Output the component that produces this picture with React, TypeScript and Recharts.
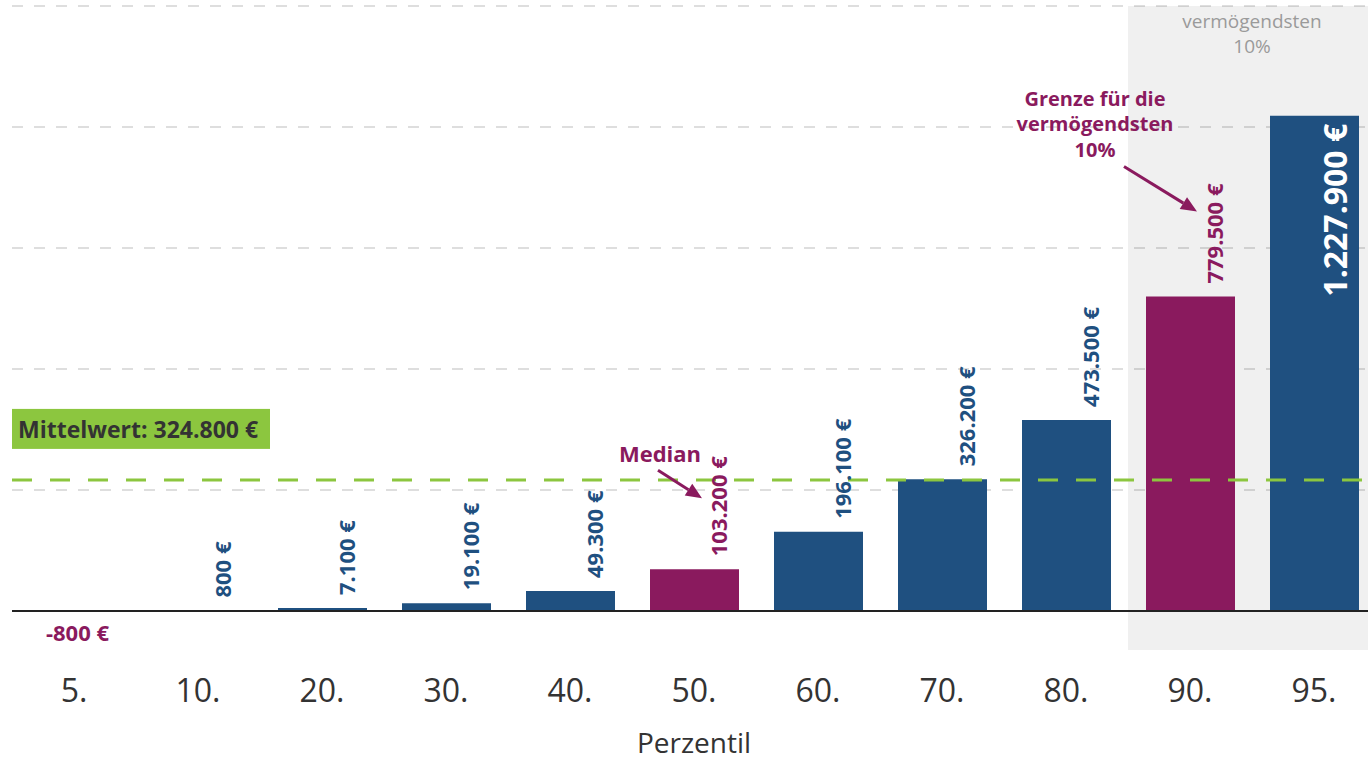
import React from 'react';
import {
  BarChart,
  Bar,
  XAxis,
  YAxis,
  CartesianGrid,
  Cell,
  LabelList,
  ReferenceArea,
  ReferenceLine,
  ReferenceDot,
} from 'recharts';

const percentiles = ['5.', '10.', '20.', '30.', '40.', '50.', '60.', '70.', '80.', '90.', '95.'];
const wealth = [-800, 800, 7100, 19100, 49300, 103200, 196100, 326200, 473500, 779500, 1227900];
const highlighted = ['50.', '90.'];
const topGroup = ['90.', '95.'];
const meanWealth = 324800;
const yTicks = [0, 300000, 600000, 900000, 1200000, 1500000];
const topGroupTitle = ['vermögendsten', '10%'];
const medianNote = ['Median'];
const thresholdNote = ['Grenze für die', 'vermögendsten', '10%'];
const axisTitle = 'Perzentil';

const data = percentiles.map((name, i) => ({ name, value: wealth[i] }));

const FONT = '"Open Sans", "Noto Sans", sans-serif';
const BLUE = '#1f5080';
const PURPLE = '#8a1a5e';
const GREEN = '#8cc63f';
const DARK = '#333333';

const fmt = (v: number) =>
  (v < 0 ? '-' : '') + Math.abs(v).toString().replace(/\B(?=(\d{3})+(?!\d))/g, '.') + ' €';

const barColor = (name: string, value: number) =>
  value < 0 || highlighted.includes(name) ? PURPLE : BLUE;

// rotated value labels above the bars, the last one sits inside its bar
const ValueLabel = (props: any) => {
  const { x, y, width, height, value, index } = props;
  const cx = x + width / 2;
  const top = Math.min(y, y + height);
  const color = barColor(percentiles[index], value);
  if (value < 0) {
    return (
      <text x={cx + 3} y={top + 30} textAnchor="middle" fill={color} fontSize={22} fontWeight={700} fontFamily={FONT}>
        {fmt(value)}
      </text>
    );
  }
  if (index === wealth.length - 1) {
    const tx = cx + 33;
    const ty = top + 8;
    return (
      <text x={tx} y={ty} transform={`rotate(-90 ${tx} ${ty})`} textAnchor="end" fill="#fff" fontSize={32} fontWeight={700} fontFamily={FONT}>
        {fmt(value)}
      </text>
    );
  }
  const tx = cx + 33;
  const ty = top - 13;
  return (
    <text x={tx} y={ty} transform={`rotate(-90 ${tx} ${ty})`} textAnchor="start" fill={color} fontSize={22} fontWeight={700} fontFamily={FONT}>
      {fmt(value)}
    </text>
  );
};

const Arrow = ({ x1, y1, x2, y2, color }: any) => {
  const a = Math.atan2(y2 - y1, x2 - x1);
  const len = 16;
  const half = 7;
  const bx = x2 - len * Math.cos(a);
  const by = y2 - len * Math.sin(a);
  const px = -Math.sin(a) * half;
  const py = Math.cos(a) * half;
  return (
    <g>
      <line x1={x1} y1={y1} x2={bx} y2={by} stroke={color} strokeWidth={3} />
      <polygon points={`${x2},${y2} ${bx + px},${by + py} ${bx - px},${by - py}`} fill={color} />
    </g>
  );
};

const MedianNote = (props: any) => {
  const vb = props.viewBox;
  const cx = vb.x + vb.width / 2;
  const cy = vb.y + vb.height / 2;
  return (
    <g>
      {medianNote.map((t, i) => (
        <text key={i} x={cx - 34} y={cy - 107 + i * 25} textAnchor="middle" fill={PURPLE} fontSize={22} fontWeight={700} fontFamily={FONT}>
          {t}
        </text>
      ))}
      <Arrow x1={cx - 36} y1={cy - 99} x2={cx + 8} y2={cy - 71} color={PURPLE} />
    </g>
  );
};

const ThresholdNote = (props: any) => {
  const vb = props.viewBox;
  const cx = vb.x + vb.width / 2;
  const cy = vb.y + vb.height / 2;
  return (
    <g>
      {thresholdNote.map((t, i) => (
        <text key={i} x={cx - 95} y={cy - 191 + i * 25.5} textAnchor="middle" fill={PURPLE} fontSize={20} fontWeight={700} fontFamily={FONT}>
          {t}
        </text>
      ))}
      <Arrow x1={cx - 66} y1={cy - 130} x2={cx + 7} y2={cy - 85} color={PURPLE} />
    </g>
  );
};

const MeanLabel = (props: any) => {
  const vb = props.viewBox;
  const ly = vb.y;
  return (
    <g>
      <rect x={vb.x} y={ly - 71} width={258} height={40} fill={GREEN} />
      <text x={vb.x + 6} y={ly - 42} fill={DARK} fontSize={23} fontWeight={700} fontFamily={FONT}>
        {'Mittelwert: ' + fmt(meanWealth)}
      </text>
    </g>
  );
};

const TopGroupLabel = (props: any) => {
  const vb = props.viewBox;
  const cx = vb.x + vb.width / 2;
  return (
    <g>
      {topGroupTitle.map((t, i) => (
        <text key={i} x={cx} y={vb.y + 22 + i * 25} textAnchor="middle" fill="#9a9a9a" fontSize={19} fontFamily={FONT}>
          {t}
        </text>
      ))}
    </g>
  );
};

const PercentileTick = (props: any) => {
  const { x, y, payload } = props;
  return (
    <text x={x} y={y + 52} textAnchor="middle" fill={DARK} fontSize={32} fontFamily={FONT}>
      {payload.value}
    </text>
  );
};

export default function App() {
  return (
    <div
      style={{
        position: 'absolute',
        left: 0,
        top: 0,
        width: 1368,
        height: 762,
        overflow: 'hidden',
        background: '#fff',
        fontFamily: FONT,
      }}
    >
      <BarChart width={1380} height={762} data={data} margin={{ top: 6, right: 4, left: 12, bottom: 12 }}>
        <CartesianGrid
          vertical={false}
          horizontalValues={yTicks}
          stroke="#dedede"
          strokeWidth={2}
          strokeDasharray="11 11"
        />
        <ReferenceArea
          x1={topGroup[0]}
          x2={topGroup[1]}
          fill="#000"
          fillOpacity={0.06}
          stroke="none"
          label={<TopGroupLabel />}
        />
        <XAxis
          dataKey="name"
          axisLine={false}
          tickLine={false}
          tickSize={0}
          tickMargin={0}
          height={100}
          interval={0}
          tick={<PercentileTick />}
          label={{ value: axisTitle, position: 'insideBottom', offset: -3, fontSize: 28, fill: DARK, fontFamily: FONT }}
        />
        <YAxis hide type="number" domain={[-97000, 1500000]} ticks={yTicks} allowDataOverflow />
        <Bar dataKey="value" barSize={89} isAnimationActive={false}>
          {data.map((d, i) => (
            <Cell key={i} fill={barColor(d.name, d.value)} />
          ))}
          <LabelList dataKey="value" content={<ValueLabel />} />
        </Bar>
        <ReferenceLine y={0} stroke="#222" strokeWidth={2} />
        <ReferenceLine y={meanWealth} stroke={GREEN} strokeWidth={3} strokeDasharray="20 18" label={<MeanLabel />} />
        <ReferenceDot x="50." y={wealth[5]} r={1} fill="none" stroke="none" label={<MedianNote />} />
        <ReferenceDot x="90." y={wealth[9]} r={1} fill="none" stroke="none" label={<ThresholdNote />} />
      </BarChart>
    </div>
  );
}
